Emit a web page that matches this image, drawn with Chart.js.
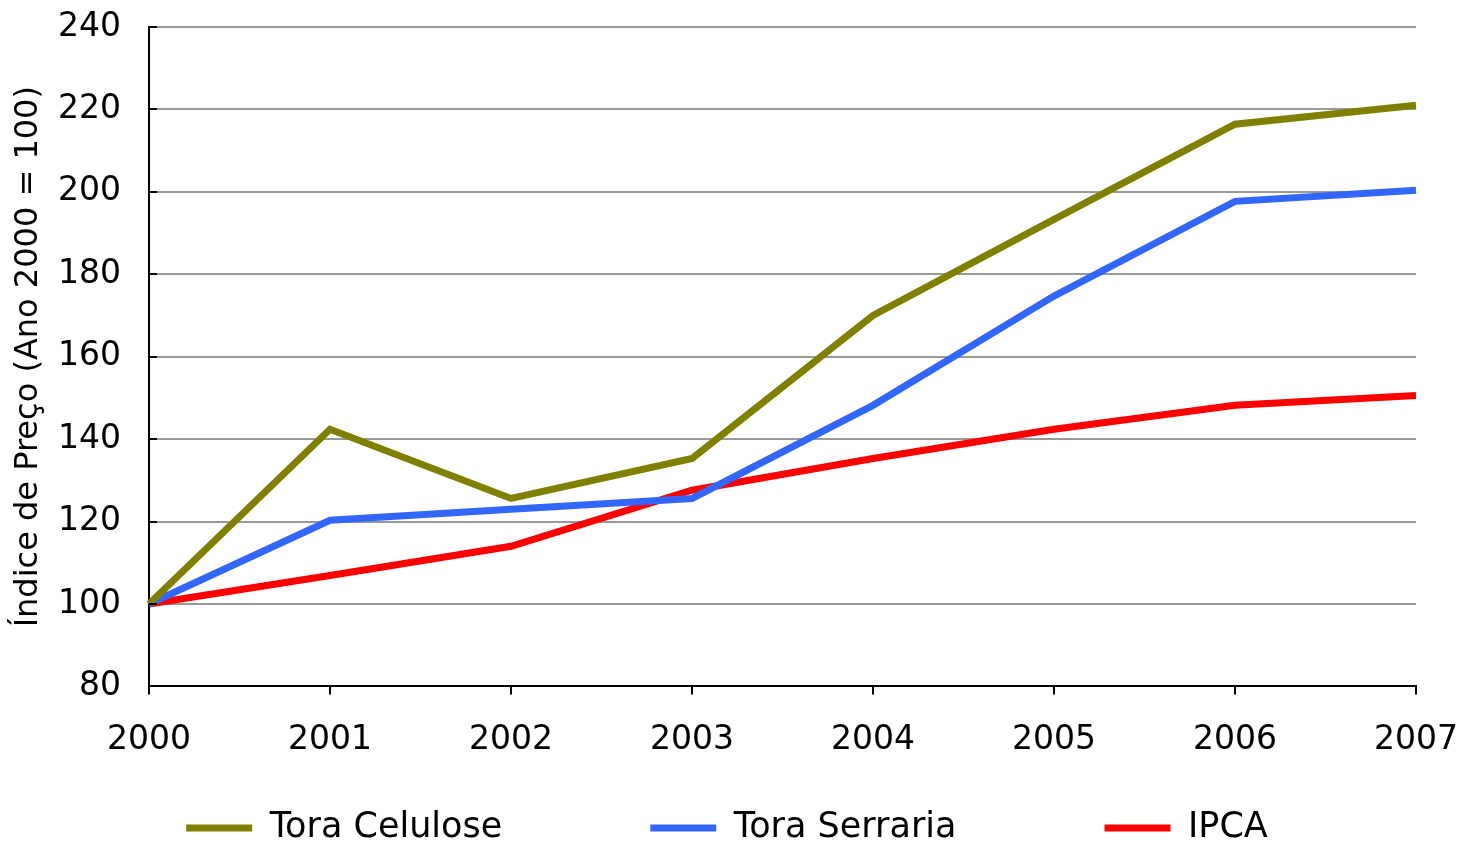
<!DOCTYPE html>
<html>
<head>
<meta charset="utf-8">
<script src="https://cdn.jsdelivr.net/npm/chart.js@4.4.0/dist/chart.umd.min.js"></script>
<style>
html,body{margin:0;padding:0;background:#fff;}
#wrap{width:1463px;height:845px;position:relative;}
</style>
</head>
<body>
<div id="wrap"><canvas id="c" width="1463" height="845"></canvas></div>
<script>
const years = ['2000','2001','2002','2003','2004','2005','2006','2007'];
const toraCelulose = [100, 142.4, 125.6, 135.3, 170.0, 193.3, 216.4, 221.0];
const toraSerraria = [100, 120.3, 123.0, 125.6, 148.2, 174.7, 197.7, 200.4];
const ipca = [100, 106.9, 114.0, 127.6, 135.3, 142.4, 148.2, 150.6];
const yTitle = 'Índice de Preço (Ano 2000 = 100)';

const FONT = "'DejaVu Sans', Verdana, sans-serif";
const LEGEND_PAD = 148;
const LEGEND_FONT = 35;

const innerTicks = {
  id: 'innerTicks',
  afterLayout(chart) {
    const lg = chart.legend;
    if (lg) {
      lg.top = 828 - LEGEND_PAD - LEGEND_FONT / 2;
      lg.left -= 9;
      lg.right -= 9;
    }
  },
  afterDatasetsDraw(chart) {
    const y = chart.scales.y, ctx = chart.ctx;
    const x0 = chart.chartArea.left;
    ctx.save();
    ctx.strokeStyle = '#000';
    ctx.lineWidth = 2;
    y.ticks.forEach(t => {
      const py = Math.round(y.getPixelForValue(t.value));
      ctx.beginPath();
      ctx.moveTo(x0, py);
      ctx.lineTo(x0 + 8, py);
      ctx.stroke();
    });
    ctx.restore();
  }
};

new Chart(document.getElementById('c'), {
  type: 'line',
  data: {
    labels: years,
    datasets: [
      {label: 'Tora Celulose', data: toraCelulose, borderColor: '#808000', backgroundColor: '#808000', borderWidth: 7, pointRadius: 0, tension: 0},
      {label: 'Tora Serraria', data: toraSerraria, borderColor: '#3366FF', backgroundColor: '#3366FF', borderWidth: 7, pointRadius: 0, tension: 0},
      {label: 'IPCA', data: ipca, borderColor: '#FF0000', backgroundColor: '#FF0000', borderWidth: 7, pointRadius: 0, tension: 0}
    ]
  },
  options: {
    responsive: false,
    animation: false,
    layout: {padding: {top: 0, right: 0, left: 9, bottom: 0}},
    plugins: {
      tooltip: {enabled: false},
      legend: {
        position: 'bottom',
        maxHeight: 59,
        labels: {
          usePointStyle: true,
          pointStyle: 'line',
          pointStyleWidth: 66,
          boxHeight: 6,
          padding: LEGEND_PAD,
          color: '#000',
          font: {family: FONT, size: LEGEND_FONT}
        }
      }
    },
    scales: {
      x: {
        offset: false,
        border: {color: '#000', width: 2},
        grid: {display: true, drawOnChartArea: false, drawTicks: true, tickLength: 8, color: '#000', lineWidth: 2},
        ticks: {color: '#000', font: {family: FONT, size: 33}, padding: 26, maxRotation: 0},
        afterFit(s) { s.paddingRight = 47; }
      },
      y: {
        min: 80, max: 240,
        border: {color: '#000', width: 2},
        grid: {color: '#999999', lineWidth: 2, drawTicks: false},
        ticks: {stepSize: 20, color: '#000', font: {family: FONT, size: 33}, padding: 28},
        title: {display: true, text: yTitle, color: '#000', font: {family: FONT, size: 32}, padding: {top: 0, bottom: 8}},
        afterFit(s) { s.width = 140; s.paddingTop = 27; }
      }
    }
  },
  plugins: [innerTicks]
});
</script>
</body>
</html>
